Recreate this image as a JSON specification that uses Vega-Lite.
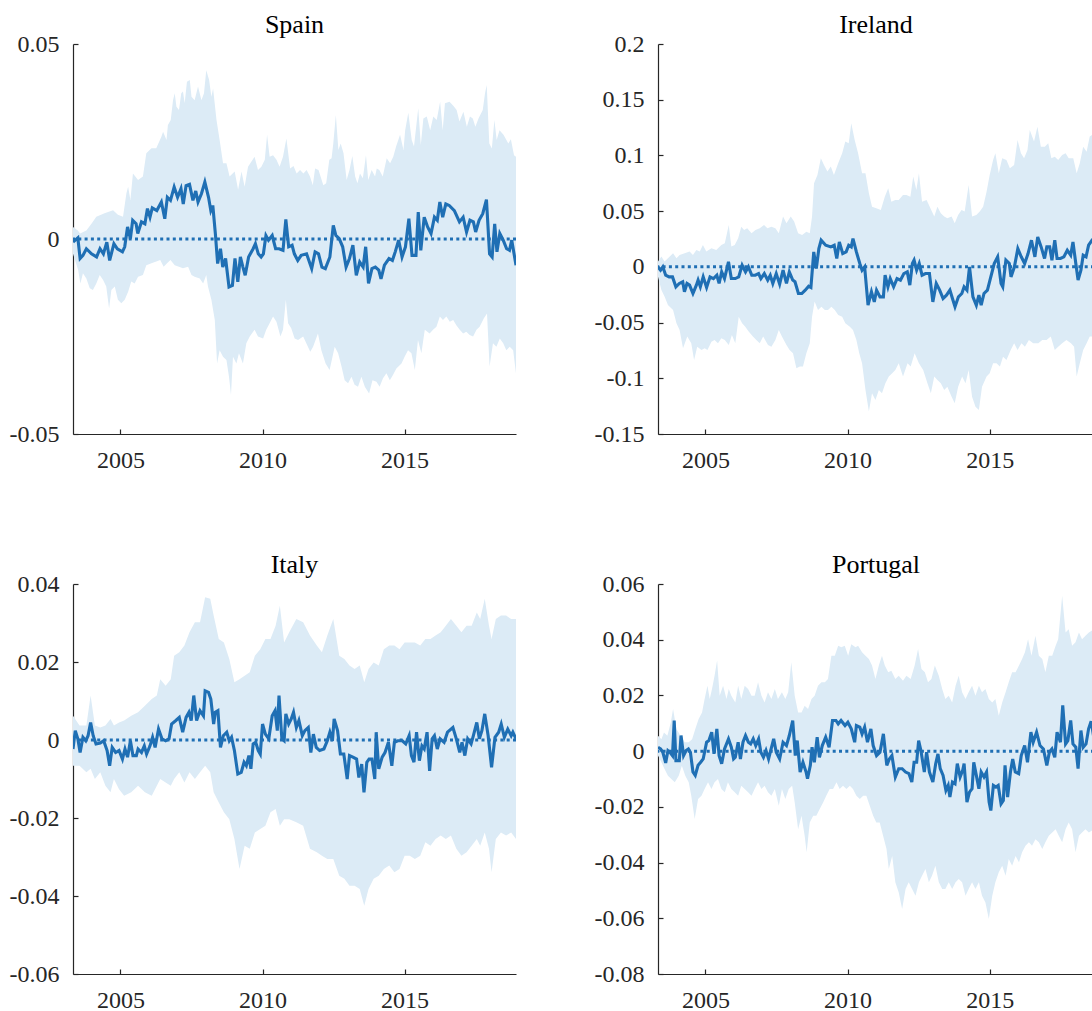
{
"$schema": "https://vega.github.io/schema/vega-lite/v6.json",
"padding": {"left": 9, "top": 12, "right": 0, "bottom": 0},
"columns": 2,
"spacing": {"row": 80, "column": 76},
"datasets": {
"spainLine": [{"t":2003.33,"v":-0.0008},{"t":2003.50,"v":0.0003},{"t":2003.58,"v":-0.0050},{"t":2003.68,"v":-0.0042},{"t":2003.80,"v":-0.0025},{"t":2003.98,"v":-0.0038},{"t":2004.16,"v":-0.0046},{"t":2004.28,"v":-0.0025},{"t":2004.40,"v":-0.0038},{"t":2004.52,"v":-0.0008},{"t":2004.62,"v":-0.0055},{"t":2004.77,"v":-0.0012},{"t":2004.89,"v":-0.0025},{"t":2005.07,"v":-0.0033},{"t":2005.15,"v":-0.0020},{"t":2005.25,"v":0.0031},{"t":2005.35,"v":0.0001},{"t":2005.43,"v":0.0048},{"t":2005.55,"v":0.0039},{"t":2005.61,"v":0.0014},{"t":2005.74,"v":0.0044},{"t":2005.86,"v":0.0039},{"t":2005.95,"v":0.0078},{"t":2006.04,"v":0.0056},{"t":2006.12,"v":0.0080},{"t":2006.28,"v":0.0073},{"t":2006.44,"v":0.0095},{"t":2006.56,"v":0.0052},{"t":2006.65,"v":0.0107},{"t":2006.76,"v":0.0099},{"t":2006.89,"v":0.0133},{"t":2007.01,"v":0.0107},{"t":2007.13,"v":0.0129},{"t":2007.21,"v":0.0090},{"t":2007.31,"v":0.0137},{"t":2007.43,"v":0.0140},{"t":2007.55,"v":0.0099},{"t":2007.65,"v":0.0123},{"t":2007.73,"v":0.0095},{"t":2007.85,"v":0.0116},{"t":2007.97,"v":0.0146},{"t":2008.10,"v":0.0107},{"t":2008.18,"v":0.0073},{"t":2008.25,"v":0.0086},{"t":2008.34,"v":0.0014},{"t":2008.42,"v":-0.0063},{"t":2008.52,"v":-0.0025},{"t":2008.60,"v":-0.0072},{"t":2008.70,"v":-0.0050},{"t":2008.82,"v":-0.0123},{"t":2008.94,"v":-0.0119},{"t":2009.03,"v":-0.0050},{"t":2009.13,"v":-0.0110},{"t":2009.22,"v":-0.0046},{"t":2009.31,"v":-0.0072},{"t":2009.39,"v":-0.0093},{"t":2009.51,"v":-0.0046},{"t":2009.67,"v":-0.0025},{"t":2009.75,"v":-0.0012},{"t":2009.85,"v":-0.0038},{"t":2009.95,"v":-0.0046},{"t":2010.03,"v":-0.0038},{"t":2010.12,"v":0.0009},{"t":2010.21,"v":-0.0003},{"t":2010.34,"v":0.0009},{"t":2010.46,"v":-0.0025},{"t":2010.58,"v":-0.0025},{"t":2010.72,"v":-0.0029},{"t":2010.82,"v":0.0050},{"t":2010.92,"v":-0.0020},{"t":2011.04,"v":-0.0016},{"t":2011.12,"v":-0.0038},{"t":2011.24,"v":-0.0055},{"t":2011.36,"v":-0.0042},{"t":2011.55,"v":-0.0038},{"t":2011.73,"v":-0.0076},{"t":2011.85,"v":-0.0033},{"t":2011.97,"v":-0.0038},{"t":2012.09,"v":-0.0072},{"t":2012.21,"v":-0.0076},{"t":2012.37,"v":-0.0046},{"t":2012.49,"v":0.0035},{"t":2012.58,"v":0.0009},{"t":2012.70,"v":0.0001},{"t":2012.82,"v":-0.0020},{"t":2012.94,"v":-0.0072},{"t":2013.06,"v":-0.0050},{"t":2013.18,"v":-0.0016},{"t":2013.30,"v":-0.0093},{"t":2013.42,"v":-0.0059},{"t":2013.54,"v":-0.0072},{"t":2013.63,"v":-0.0020},{"t":2013.73,"v":-0.0114},{"t":2013.85,"v":-0.0076},{"t":2013.97,"v":-0.0072},{"t":2014.09,"v":-0.0080},{"t":2014.17,"v":-0.0102},{"t":2014.29,"v":-0.0067},{"t":2014.45,"v":-0.0050},{"t":2014.57,"v":-0.0055},{"t":2014.67,"v":-0.0033},{"t":2014.79,"v":-0.0003},{"t":2014.91,"v":-0.0046},{"t":2015.03,"v":-0.0020},{"t":2015.15,"v":0.0052},{"t":2015.26,"v":-0.0042},{"t":2015.40,"v":-0.0042},{"t":2015.48,"v":0.0069},{"t":2015.57,"v":-0.0029},{"t":2015.69,"v":0.0056},{"t":2015.81,"v":0.0031},{"t":2015.93,"v":0.0014},{"t":2016.05,"v":0.0056},{"t":2016.15,"v":0.0048},{"t":2016.24,"v":0.0095},{"t":2016.34,"v":0.0056},{"t":2016.45,"v":0.0090},{"t":2016.57,"v":0.0086},{"t":2016.75,"v":0.0073},{"t":2016.93,"v":0.0044},{"t":2017.06,"v":0.0056},{"t":2017.18,"v":0.0018},{"t":2017.30,"v":0.0048},{"t":2017.42,"v":0.0044},{"t":2017.50,"v":0.0018},{"t":2017.62,"v":0.0048},{"t":2017.75,"v":0.0065},{"t":2017.88,"v":0.0101},{"t":2017.99,"v":-0.0038},{"t":2018.08,"v":-0.0046},{"t":2018.17,"v":0.0039},{"t":2018.25,"v":-0.0033},{"t":2018.35,"v":0.0014},{"t":2018.47,"v":-0.0003},{"t":2018.59,"v":-0.0025},{"t":2018.69,"v":-0.0029},{"t":2018.77,"v":-0.0003},{"t":2018.92,"v":-0.0067}],
"spainUpper": [{"t":2003.33,"hi":0.0031},{"t":2003.50,"hi":0.0022},{"t":2003.58,"hi":0.0014},{"t":2003.80,"hi":0.0022},{"t":2003.98,"hi":0.0039},{"t":2004.15,"hi":0.0057},{"t":2004.44,"hi":0.0066},{"t":2004.74,"hi":0.0074},{"t":2004.91,"hi":0.0062},{"t":2005.09,"hi":0.0057},{"t":2005.21,"hi":0.0117},{"t":2005.27,"hi":0.0134},{"t":2005.35,"hi":0.0100},{"t":2005.44,"hi":0.0168},{"t":2005.62,"hi":0.0151},{"t":2005.79,"hi":0.0160},{"t":2005.91,"hi":0.0220},{"t":2006.09,"hi":0.0233},{"t":2006.26,"hi":0.0233},{"t":2006.44,"hi":0.0262},{"t":2006.50,"hi":0.0275},{"t":2006.62,"hi":0.0254},{"t":2006.67,"hi":0.0292},{"t":2006.77,"hi":0.0305},{"t":2006.85,"hi":0.0356},{"t":2006.91,"hi":0.0374},{"t":2006.97,"hi":0.0339},{"t":2007.06,"hi":0.0331},{"t":2007.14,"hi":0.0374},{"t":2007.20,"hi":0.0378},{"t":2007.26,"hi":0.0348},{"t":2007.34,"hi":0.0403},{"t":2007.44,"hi":0.0408},{"t":2007.50,"hi":0.0365},{"t":2007.61,"hi":0.0356},{"t":2007.73,"hi":0.0391},{"t":2007.85,"hi":0.0356},{"t":2007.94,"hi":0.0374},{"t":2008.02,"hi":0.0433},{"t":2008.12,"hi":0.0408},{"t":2008.20,"hi":0.0365},{"t":2008.26,"hi":0.0386},{"t":2008.38,"hi":0.0305},{"t":2008.49,"hi":0.0254},{"t":2008.61,"hi":0.0194},{"t":2008.73,"hi":0.0194},{"t":2008.84,"hi":0.0160},{"t":2009.02,"hi":0.0173},{"t":2009.14,"hi":0.0126},{"t":2009.26,"hi":0.0173},{"t":2009.37,"hi":0.0134},{"t":2009.49,"hi":0.0185},{"t":2009.72,"hi":0.0211},{"t":2009.84,"hi":0.0177},{"t":2009.96,"hi":0.0185},{"t":2010.08,"hi":0.0203},{"t":2010.16,"hi":0.0267},{"t":2010.25,"hi":0.0211},{"t":2010.37,"hi":0.0215},{"t":2010.49,"hi":0.0203},{"t":2010.60,"hi":0.0185},{"t":2010.72,"hi":0.0211},{"t":2010.84,"hi":0.0258},{"t":2010.97,"hi":0.0181},{"t":2011.09,"hi":0.0187},{"t":2011.20,"hi":0.0168},{"t":2011.32,"hi":0.0177},{"t":2011.44,"hi":0.0168},{"t":2011.55,"hi":0.0177},{"t":2011.67,"hi":0.0160},{"t":2011.77,"hi":0.0138},{"t":2011.85,"hi":0.0181},{"t":2011.97,"hi":0.0177},{"t":2012.14,"hi":0.0138},{"t":2012.24,"hi":0.0143},{"t":2012.35,"hi":0.0203},{"t":2012.43,"hi":0.0207},{"t":2012.49,"hi":0.0245},{"t":2012.58,"hi":0.0318},{"t":2012.67,"hi":0.0228},{"t":2012.75,"hi":0.0245},{"t":2012.85,"hi":0.0220},{"t":2012.96,"hi":0.0151},{"t":2013.06,"hi":0.0177},{"t":2013.16,"hi":0.0213},{"t":2013.26,"hi":0.0160},{"t":2013.34,"hi":0.0143},{"t":2013.43,"hi":0.0168},{"t":2013.53,"hi":0.0156},{"t":2013.64,"hi":0.0215},{"t":2013.72,"hi":0.0151},{"t":2013.84,"hi":0.0177},{"t":2013.96,"hi":0.0160},{"t":2014.02,"hi":0.0181},{"t":2014.11,"hi":0.0177},{"t":2014.23,"hi":0.0160},{"t":2014.37,"hi":0.0207},{"t":2014.49,"hi":0.0194},{"t":2014.60,"hi":0.0211},{"t":2014.70,"hi":0.0237},{"t":2014.84,"hi":0.0267},{"t":2014.96,"hi":0.0228},{"t":2015.02,"hi":0.0279},{"t":2015.13,"hi":0.0324},{"t":2015.25,"hi":0.0254},{"t":2015.33,"hi":0.0237},{"t":2015.48,"hi":0.0335},{"t":2015.57,"hi":0.0241},{"t":2015.66,"hi":0.0309},{"t":2015.78,"hi":0.0314},{"t":2015.90,"hi":0.0279},{"t":2016.01,"hi":0.0314},{"t":2016.13,"hi":0.0305},{"t":2016.25,"hi":0.0352},{"t":2016.34,"hi":0.0279},{"t":2016.42,"hi":0.0348},{"t":2016.58,"hi":0.0352},{"t":2016.72,"hi":0.0341},{"t":2016.83,"hi":0.0331},{"t":2016.93,"hi":0.0301},{"t":2017.07,"hi":0.0326},{"t":2017.19,"hi":0.0288},{"t":2017.30,"hi":0.0314},{"t":2017.40,"hi":0.0309},{"t":2017.49,"hi":0.0288},{"t":2017.60,"hi":0.0309},{"t":2017.75,"hi":0.0331},{"t":2017.83,"hi":0.0374},{"t":2017.89,"hi":0.0395},{"t":2017.98,"hi":0.0245},{"t":2018.07,"hi":0.0232},{"t":2018.16,"hi":0.0305},{"t":2018.24,"hi":0.0254},{"t":2018.34,"hi":0.0279},{"t":2018.48,"hi":0.0267},{"t":2018.65,"hi":0.0245},{"t":2018.74,"hi":0.0256},{"t":2018.85,"hi":0.0215},{"t":2018.92,"hi":0.0211}],
"spainLower": [{"t":2003.33,"lo":-0.0038},{"t":2003.51,"lo":-0.0079},{"t":2003.59,"lo":-0.0114},{"t":2003.68,"lo":-0.0088},{"t":2003.80,"lo":-0.0101},{"t":2003.92,"lo":-0.0126},{"t":2004.03,"lo":-0.0131},{"t":2004.15,"lo":-0.0114},{"t":2004.27,"lo":-0.0092},{"t":2004.39,"lo":-0.0105},{"t":2004.50,"lo":-0.0122},{"t":2004.60,"lo":-0.0178},{"t":2004.68,"lo":-0.0131},{"t":2004.80,"lo":-0.0122},{"t":2004.91,"lo":-0.0156},{"t":2005.03,"lo":-0.0165},{"t":2005.15,"lo":-0.0156},{"t":2005.27,"lo":-0.0135},{"t":2005.38,"lo":-0.0109},{"t":2005.50,"lo":-0.0114},{"t":2005.62,"lo":-0.0097},{"t":2005.79,"lo":-0.0092},{"t":2005.91,"lo":-0.0067},{"t":2006.09,"lo":-0.0062},{"t":2006.26,"lo":-0.0058},{"t":2006.40,"lo":-0.0054},{"t":2006.52,"lo":-0.0071},{"t":2006.64,"lo":-0.0062},{"t":2006.76,"lo":-0.0054},{"t":2006.91,"lo":-0.0067},{"t":2007.06,"lo":-0.0071},{"t":2007.20,"lo":-0.0075},{"t":2007.38,"lo":-0.0071},{"t":2007.50,"lo":-0.0092},{"t":2007.61,"lo":-0.0097},{"t":2007.79,"lo":-0.0101},{"t":2007.91,"lo":-0.0114},{"t":2008.02,"lo":-0.0092},{"t":2008.08,"lo":-0.0122},{"t":2008.20,"lo":-0.0156},{"t":2008.32,"lo":-0.0208},{"t":2008.40,"lo":-0.0319},{"t":2008.49,"lo":-0.0285},{"t":2008.61,"lo":-0.0302},{"t":2008.73,"lo":-0.0310},{"t":2008.82,"lo":-0.0353},{"t":2008.89,"lo":-0.0400},{"t":2008.96,"lo":-0.0302},{"t":2009.08,"lo":-0.0319},{"t":2009.17,"lo":-0.0293},{"t":2009.31,"lo":-0.0319},{"t":2009.43,"lo":-0.0267},{"t":2009.55,"lo":-0.0250},{"t":2009.72,"lo":-0.0233},{"t":2009.84,"lo":-0.0250},{"t":2010.02,"lo":-0.0255},{"t":2010.13,"lo":-0.0233},{"t":2010.25,"lo":-0.0216},{"t":2010.37,"lo":-0.0199},{"t":2010.49,"lo":-0.0212},{"t":2010.63,"lo":-0.0250},{"t":2010.72,"lo":-0.0233},{"t":2010.82,"lo":-0.0156},{"t":2010.90,"lo":-0.0216},{"t":2011.01,"lo":-0.0229},{"t":2011.13,"lo":-0.0255},{"t":2011.25,"lo":-0.0259},{"t":2011.43,"lo":-0.0250},{"t":2011.54,"lo":-0.0267},{"t":2011.68,"lo":-0.0289},{"t":2011.78,"lo":-0.0276},{"t":2011.95,"lo":-0.0242},{"t":2012.07,"lo":-0.0285},{"t":2012.22,"lo":-0.0319},{"t":2012.36,"lo":-0.0336},{"t":2012.54,"lo":-0.0276},{"t":2012.66,"lo":-0.0293},{"t":2012.78,"lo":-0.0327},{"t":2012.89,"lo":-0.0362},{"t":2013.01,"lo":-0.0370},{"t":2013.13,"lo":-0.0353},{"t":2013.24,"lo":-0.0374},{"t":2013.36,"lo":-0.0379},{"t":2013.48,"lo":-0.0353},{"t":2013.60,"lo":-0.0379},{"t":2013.75,"lo":-0.0396},{"t":2013.87,"lo":-0.0362},{"t":2014.01,"lo":-0.0366},{"t":2014.12,"lo":-0.0379},{"t":2014.24,"lo":-0.0357},{"t":2014.36,"lo":-0.0344},{"t":2014.48,"lo":-0.0362},{"t":2014.59,"lo":-0.0349},{"t":2014.71,"lo":-0.0332},{"t":2014.89,"lo":-0.0319},{"t":2015.00,"lo":-0.0302},{"t":2015.12,"lo":-0.0285},{"t":2015.24,"lo":-0.0293},{"t":2015.36,"lo":-0.0336},{"t":2015.47,"lo":-0.0259},{"t":2015.59,"lo":-0.0293},{"t":2015.71,"lo":-0.0233},{"t":2015.88,"lo":-0.0242},{"t":2016.00,"lo":-0.0233},{"t":2016.12,"lo":-0.0225},{"t":2016.24,"lo":-0.0199},{"t":2016.35,"lo":-0.0208},{"t":2016.47,"lo":-0.0199},{"t":2016.59,"lo":-0.0212},{"t":2016.71,"lo":-0.0208},{"t":2016.82,"lo":-0.0221},{"t":2016.94,"lo":-0.0233},{"t":2017.06,"lo":-0.0242},{"t":2017.17,"lo":-0.0238},{"t":2017.29,"lo":-0.0246},{"t":2017.41,"lo":-0.0250},{"t":2017.53,"lo":-0.0233},{"t":2017.64,"lo":-0.0225},{"t":2017.79,"lo":-0.0203},{"t":2017.90,"lo":-0.0191},{"t":2017.99,"lo":-0.0327},{"t":2018.11,"lo":-0.0267},{"t":2018.23,"lo":-0.0276},{"t":2018.35,"lo":-0.0255},{"t":2018.47,"lo":-0.0267},{"t":2018.58,"lo":-0.0285},{"t":2018.70,"lo":-0.0276},{"t":2018.82,"lo":-0.0285},{"t":2018.92,"lo":-0.0345}],
"irelandLine": [{"t":2003.33,"v":0},{"t":2003.42,"v":-0.0030},{"t":2003.50,"v":0},{"t":2003.60,"v":-0.0075},{"t":2003.72,"v":-0.0090},{"t":2003.84,"v":-0.0090},{"t":2003.96,"v":-0.0179},{"t":2004.08,"v":-0.0149},{"t":2004.20,"v":-0.0134},{"t":2004.26,"v":-0.0224},{"t":2004.35,"v":-0.0149},{"t":2004.44,"v":-0.0164},{"t":2004.56,"v":-0.0239},{"t":2004.68,"v":-0.0164},{"t":2004.74,"v":-0.0119},{"t":2004.82,"v":-0.0179},{"t":2004.92,"v":-0.0090},{"t":2005.04,"v":-0.0185},{"t":2005.16,"v":-0.0090},{"t":2005.28,"v":-0.0105},{"t":2005.40,"v":-0.0075},{"t":2005.48,"v":-0.0149},{"t":2005.57,"v":-0.0045},{"t":2005.67,"v":-0.0105},{"t":2005.81,"v":0.0045},{"t":2005.91,"v":-0.0105},{"t":2006.05,"v":-0.0105},{"t":2006.17,"v":-0.0090},{"t":2006.29,"v":0.0015},{"t":2006.41,"v":-0.0045},{"t":2006.51,"v":0},{"t":2006.63,"v":-0.0075},{"t":2006.75,"v":-0.0075},{"t":2006.87,"v":-0.0060},{"t":2006.95,"v":-0.0105},{"t":2007.07,"v":-0.0060},{"t":2007.19,"v":-0.0119},{"t":2007.28,"v":-0.0075},{"t":2007.37,"v":-0.0149},{"t":2007.49,"v":-0.0060},{"t":2007.61,"v":-0.0155},{"t":2007.73,"v":-0.0030},{"t":2007.85,"v":-0.0149},{"t":2007.95,"v":-0.0045},{"t":2008.07,"v":-0.0119},{"t":2008.15,"v":-0.0134},{"t":2008.27,"v":-0.0239},{"t":2008.39,"v":-0.0239},{"t":2008.51,"v":-0.0209},{"t":2008.63,"v":-0.0173},{"t":2008.71,"v":-0.0185},{"t":2008.81,"v":0.0134},{"t":2008.90,"v":-0.0015},{"t":2008.99,"v":0.0164},{"t":2009.07,"v":0.0239},{"t":2009.23,"v":0.0194},{"t":2009.41,"v":0.0179},{"t":2009.53,"v":0.0194},{"t":2009.62,"v":0.0075},{"t":2009.71,"v":0.0224},{"t":2009.83,"v":0.0119},{"t":2009.95,"v":0.0134},{"t":2010.04,"v":0.0194},{"t":2010.13,"v":0.0179},{"t":2010.19,"v":0.0254},{"t":2010.31,"v":0.0134},{"t":2010.43,"v":0.0030},{"t":2010.51,"v":-0.0030},{"t":2010.60,"v":0},{"t":2010.72,"v":-0.0344},{"t":2010.84,"v":-0.0224},{"t":2010.94,"v":-0.0314},{"t":2011.02,"v":-0.0209},{"t":2011.14,"v":-0.0269},{"t":2011.26,"v":-0.0269},{"t":2011.32,"v":-0.0075},{"t":2011.42,"v":-0.0179},{"t":2011.50,"v":-0.0105},{"t":2011.62,"v":-0.0179},{"t":2011.74,"v":-0.0105},{"t":2011.86,"v":-0.0119},{"t":2011.98,"v":-0.0060},{"t":2012.10,"v":-0.0045},{"t":2012.19,"v":-0.0164},{"t":2012.28,"v":0.0030},{"t":2012.34,"v":0.0060},{"t":2012.43,"v":-0.0030},{"t":2012.52,"v":0.0030},{"t":2012.62,"v":-0.0075},{"t":2012.74,"v":-0.0060},{"t":2012.88,"v":-0.0060},{"t":2013.00,"v":-0.0314},{"t":2013.12,"v":-0.0149},{"t":2013.24,"v":-0.0209},{"t":2013.36,"v":-0.0284},{"t":2013.48,"v":-0.0254},{"t":2013.60,"v":-0.0209},{"t":2013.69,"v":-0.0284},{"t":2013.78,"v":-0.0358},{"t":2013.90,"v":-0.0269},{"t":2014.02,"v":-0.0239},{"t":2014.10,"v":-0.0179},{"t":2014.20,"v":-0.0209},{"t":2014.29,"v":0},{"t":2014.41,"v":-0.0269},{"t":2014.53,"v":-0.0344},{"t":2014.62,"v":-0.0254},{"t":2014.70,"v":-0.0344},{"t":2014.80,"v":-0.0239},{"t":2014.92,"v":-0.0209},{"t":2015.01,"v":-0.0119},{"t":2015.16,"v":0.0030},{"t":2015.28,"v":0.0090},{"t":2015.40,"v":-0.0149},{"t":2015.46,"v":-0.0179},{"t":2015.57,"v":0.0060},{"t":2015.69,"v":0.0030},{"t":2015.75,"v":-0.0090},{"t":2015.87,"v":0},{"t":2015.99,"v":0.0164},{"t":2016.11,"v":0.0090},{"t":2016.23,"v":0.0030},{"t":2016.35,"v":0.0119},{"t":2016.47,"v":0.0239},{"t":2016.59,"v":0.0090},{"t":2016.69,"v":0.0269},{"t":2016.81,"v":0.0179},{"t":2016.93,"v":0.0075},{"t":2017.01,"v":0.0179},{"t":2017.11,"v":0.0179},{"t":2017.19,"v":0.0060},{"t":2017.29,"v":0.0239},{"t":2017.37,"v":0.0075},{"t":2017.49,"v":0.0075},{"t":2017.61,"v":0.0090},{"t":2017.73,"v":0.0149},{"t":2017.85,"v":0.0105},{"t":2017.93,"v":0.0224},{"t":2018.03,"v":0.0030},{"t":2018.11,"v":-0.0119},{"t":2018.21,"v":-0.0030},{"t":2018.29,"v":0.0105},{"t":2018.39,"v":0.0090},{"t":2018.48,"v":0.0194},{"t":2018.60,"v":0.0239},{"t":2018.72,"v":0.0224},{"t":2018.92,"v":0.0220}],
"irelandUpper": [{"t":2003.33,"hi":0.0047},{"t":2003.45,"hi":0.0092},{"t":2003.56,"hi":0.0047},{"t":2003.68,"hi":0.0077},{"t":2003.86,"hi":0.0122},{"t":2003.98,"hi":0.0077},{"t":2004.09,"hi":0.0107},{"t":2004.27,"hi":0.0122},{"t":2004.44,"hi":0.0137},{"t":2004.56,"hi":0.0107},{"t":2004.68,"hi":0.0152},{"t":2004.80,"hi":0.0137},{"t":2004.91,"hi":0.0197},{"t":2005.03,"hi":0.0137},{"t":2005.21,"hi":0.0167},{"t":2005.38,"hi":0.0152},{"t":2005.56,"hi":0.0197},{"t":2005.68,"hi":0.0212},{"t":2005.82,"hi":0.0376},{"t":2005.91,"hi":0.0182},{"t":2006.03,"hi":0.0197},{"t":2006.15,"hi":0.0256},{"t":2006.26,"hi":0.0361},{"t":2006.36,"hi":0.0331},{"t":2006.47,"hi":0.0346},{"t":2006.62,"hi":0.0301},{"t":2006.76,"hi":0.0331},{"t":2006.91,"hi":0.0346},{"t":2007.06,"hi":0.0376},{"t":2007.18,"hi":0.0346},{"t":2007.32,"hi":0.0361},{"t":2007.46,"hi":0.0346},{"t":2007.58,"hi":0.0301},{"t":2007.73,"hi":0.0451},{"t":2007.85,"hi":0.0391},{"t":2008.00,"hi":0.0451},{"t":2008.12,"hi":0.0406},{"t":2008.26,"hi":0.0301},{"t":2008.40,"hi":0.0286},{"t":2008.55,"hi":0.0316},{"t":2008.67,"hi":0.0301},{"t":2008.75,"hi":0.0451},{"t":2008.82,"hi":0.0750},{"t":2008.94,"hi":0.0825},{"t":2009.06,"hi":0.0974},{"t":2009.17,"hi":0.0915},{"t":2009.29,"hi":0.0855},{"t":2009.41,"hi":0.0900},{"t":2009.52,"hi":0.0825},{"t":2009.67,"hi":0.0929},{"t":2009.81,"hi":0.1019},{"t":2009.92,"hi":0.1124},{"t":2010.04,"hi":0.1109},{"t":2010.13,"hi":0.1288},{"t":2010.25,"hi":0.1139},{"t":2010.37,"hi":0.1019},{"t":2010.51,"hi":0.0840},{"t":2010.63,"hi":0.0840},{"t":2010.75,"hi":0.0660},{"t":2010.86,"hi":0.0540},{"t":2011.01,"hi":0.0526},{"t":2011.17,"hi":0.0511},{"t":2011.31,"hi":0.0630},{"t":2011.43,"hi":0.0705},{"t":2011.54,"hi":0.0585},{"t":2011.68,"hi":0.0600},{"t":2011.80,"hi":0.0600},{"t":2011.95,"hi":0.0645},{"t":2012.07,"hi":0.0645},{"t":2012.21,"hi":0.0630},{"t":2012.31,"hi":0.0810},{"t":2012.42,"hi":0.0690},{"t":2012.51,"hi":0.0840},{"t":2012.62,"hi":0.0585},{"t":2012.78,"hi":0.0600},{"t":2012.89,"hi":0.0540},{"t":2013.05,"hi":0.0451},{"t":2013.16,"hi":0.0540},{"t":2013.28,"hi":0.0481},{"t":2013.40,"hi":0.0451},{"t":2013.51,"hi":0.0436},{"t":2013.66,"hi":0.0451},{"t":2013.77,"hi":0.0391},{"t":2013.89,"hi":0.0466},{"t":2014.01,"hi":0.0511},{"t":2014.12,"hi":0.0496},{"t":2014.26,"hi":0.0735},{"t":2014.38,"hi":0.0451},{"t":2014.53,"hi":0.0466},{"t":2014.65,"hi":0.0496},{"t":2014.77,"hi":0.0540},{"t":2014.89,"hi":0.0675},{"t":2015.00,"hi":0.0825},{"t":2015.12,"hi":0.0959},{"t":2015.20,"hi":0.1019},{"t":2015.32,"hi":0.0840},{"t":2015.44,"hi":0.0974},{"t":2015.59,"hi":0.0959},{"t":2015.71,"hi":0.0885},{"t":2015.86,"hi":0.0915},{"t":2015.98,"hi":0.1139},{"t":2016.10,"hi":0.1019},{"t":2016.21,"hi":0.0974},{"t":2016.33,"hi":0.1049},{"t":2016.41,"hi":0.1229},{"t":2016.56,"hi":0.1124},{"t":2016.68,"hi":0.1258},{"t":2016.80,"hi":0.1079},{"t":2016.94,"hi":0.1079},{"t":2017.06,"hi":0.1109},{"t":2017.17,"hi":0.0974},{"t":2017.29,"hi":0.0989},{"t":2017.41,"hi":0.0959},{"t":2017.55,"hi":0.1004},{"t":2017.67,"hi":0.1019},{"t":2017.78,"hi":0.0974},{"t":2017.94,"hi":0.0974},{"t":2018.06,"hi":0.0840},{"t":2018.17,"hi":0.0929},{"t":2018.29,"hi":0.1079},{"t":2018.41,"hi":0.1034},{"t":2018.52,"hi":0.1169},{"t":2018.68,"hi":0.1199},{"t":2018.92,"hi":0.1200}],
"irelandLower": [{"t":2003.33,"lo":-0.0088},{"t":2003.45,"lo":-0.0207},{"t":2003.56,"lo":-0.0267},{"t":2003.68,"lo":-0.0342},{"t":2003.86,"lo":-0.0387},{"t":2003.98,"lo":-0.0506},{"t":2004.09,"lo":-0.0566},{"t":2004.21,"lo":-0.0731},{"t":2004.36,"lo":-0.0626},{"t":2004.50,"lo":-0.0686},{"t":2004.60,"lo":-0.0835},{"t":2004.71,"lo":-0.0716},{"t":2004.86,"lo":-0.0746},{"t":2004.97,"lo":-0.0731},{"t":2005.07,"lo":-0.0746},{"t":2005.21,"lo":-0.0671},{"t":2005.32,"lo":-0.0656},{"t":2005.44,"lo":-0.0686},{"t":2005.56,"lo":-0.0641},{"t":2005.68,"lo":-0.0656},{"t":2005.82,"lo":-0.0701},{"t":2005.93,"lo":-0.0611},{"t":2006.05,"lo":-0.0686},{"t":2006.17,"lo":-0.0447},{"t":2006.29,"lo":-0.0506},{"t":2006.40,"lo":-0.0537},{"t":2006.52,"lo":-0.0581},{"t":2006.67,"lo":-0.0626},{"t":2006.79,"lo":-0.0656},{"t":2006.91,"lo":-0.0686},{"t":2007.03,"lo":-0.0626},{"t":2007.20,"lo":-0.0701},{"t":2007.32,"lo":-0.0716},{"t":2007.46,"lo":-0.0656},{"t":2007.58,"lo":-0.0566},{"t":2007.69,"lo":-0.0626},{"t":2007.85,"lo":-0.0701},{"t":2007.96,"lo":-0.0746},{"t":2008.08,"lo":-0.0776},{"t":2008.20,"lo":-0.0910},{"t":2008.32,"lo":-0.0895},{"t":2008.43,"lo":-0.0895},{"t":2008.55,"lo":-0.0776},{"t":2008.67,"lo":-0.0686},{"t":2008.75,"lo":-0.0447},{"t":2008.84,"lo":-0.0312},{"t":2008.96,"lo":-0.0387},{"t":2009.08,"lo":-0.0357},{"t":2009.20,"lo":-0.0387},{"t":2009.31,"lo":-0.0387},{"t":2009.43,"lo":-0.0357},{"t":2009.55,"lo":-0.0387},{"t":2009.67,"lo":-0.0432},{"t":2009.81,"lo":-0.0447},{"t":2009.92,"lo":-0.0506},{"t":2010.08,"lo":-0.0537},{"t":2010.19,"lo":-0.0566},{"t":2010.31,"lo":-0.0656},{"t":2010.41,"lo":-0.0776},{"t":2010.51,"lo":-0.0865},{"t":2010.63,"lo":-0.1105},{"t":2010.75,"lo":-0.1299},{"t":2010.86,"lo":-0.1134},{"t":2010.98,"lo":-0.1194},{"t":2011.10,"lo":-0.1105},{"t":2011.21,"lo":-0.1134},{"t":2011.33,"lo":-0.1045},{"t":2011.45,"lo":-0.0985},{"t":2011.57,"lo":-0.0955},{"t":2011.68,"lo":-0.0925},{"t":2011.80,"lo":-0.0865},{"t":2011.95,"lo":-0.0985},{"t":2012.11,"lo":-0.0865},{"t":2012.22,"lo":-0.0895},{"t":2012.36,"lo":-0.0776},{"t":2012.51,"lo":-0.0865},{"t":2012.66,"lo":-0.0925},{"t":2012.81,"lo":-0.1045},{"t":2012.93,"lo":-0.1134},{"t":2013.05,"lo":-0.0985},{"t":2013.16,"lo":-0.1015},{"t":2013.28,"lo":-0.1045},{"t":2013.40,"lo":-0.1105},{"t":2013.51,"lo":-0.1075},{"t":2013.66,"lo":-0.1165},{"t":2013.77,"lo":-0.1224},{"t":2013.89,"lo":-0.1075},{"t":2014.03,"lo":-0.0985},{"t":2014.15,"lo":-0.1045},{"t":2014.26,"lo":-0.0925},{"t":2014.38,"lo":-0.1165},{"t":2014.50,"lo":-0.1255},{"t":2014.62,"lo":-0.1284},{"t":2014.73,"lo":-0.1075},{"t":2014.89,"lo":-0.0985},{"t":2015.00,"lo":-0.0955},{"t":2015.12,"lo":-0.0865},{"t":2015.24,"lo":-0.0865},{"t":2015.36,"lo":-0.0895},{"t":2015.47,"lo":-0.0806},{"t":2015.59,"lo":-0.0835},{"t":2015.74,"lo":-0.0746},{"t":2015.86,"lo":-0.0686},{"t":2015.98,"lo":-0.0746},{"t":2016.12,"lo":-0.0686},{"t":2016.24,"lo":-0.0716},{"t":2016.38,"lo":-0.0656},{"t":2016.53,"lo":-0.0686},{"t":2016.71,"lo":-0.0686},{"t":2016.85,"lo":-0.0656},{"t":2017.00,"lo":-0.0656},{"t":2017.15,"lo":-0.0626},{"t":2017.29,"lo":-0.0746},{"t":2017.41,"lo":-0.0716},{"t":2017.55,"lo":-0.0686},{"t":2017.70,"lo":-0.0656},{"t":2017.86,"lo":-0.0686},{"t":2017.97,"lo":-0.0716},{"t":2018.06,"lo":-0.0985},{"t":2018.17,"lo":-0.0865},{"t":2018.29,"lo":-0.0746},{"t":2018.41,"lo":-0.0686},{"t":2018.52,"lo":-0.0626},{"t":2018.68,"lo":-0.0626},{"t":2018.92,"lo":-0.0600}],
"italyLine": [{"t":2003.33,"v":-0.0023},{"t":2003.41,"v":0.0024},{"t":2003.50,"v":0.0003},{"t":2003.58,"v":-0.0032},{"t":2003.68,"v":0.0007},{"t":2003.78,"v":-0.0002},{"t":2003.86,"v":0.0011},{"t":2003.95,"v":0.0045},{"t":2004.04,"v":0.0011},{"t":2004.14,"v":-0.0010},{"t":2004.29,"v":-0.0008},{"t":2004.41,"v":-0.0002},{"t":2004.53,"v":-0.0027},{"t":2004.62,"v":-0.0066},{"t":2004.71,"v":-0.0019},{"t":2004.83,"v":-0.0032},{"t":2004.95,"v":-0.0027},{"t":2005.07,"v":-0.0049},{"t":2005.16,"v":-0.0023},{"t":2005.25,"v":-0.0044},{"t":2005.35,"v":-0.0002},{"t":2005.44,"v":-0.0040},{"t":2005.56,"v":-0.0040},{"t":2005.62,"v":-0.0023},{"t":2005.74,"v":-0.0032},{"t":2005.84,"v":-0.0015},{"t":2005.92,"v":-0.0036},{"t":2006.04,"v":-0.0015},{"t":2006.13,"v":0.0007},{"t":2006.22,"v":-0.0019},{"t":2006.34,"v":0.0028},{"t":2006.46,"v":0.0003},{"t":2006.59,"v":-0.0002},{"t":2006.71,"v":0.0003},{"t":2006.80,"v":0.0041},{"t":2006.95,"v":0.0050},{"t":2007.07,"v":0.0058},{"t":2007.19,"v":0.0020},{"t":2007.31,"v":0.0058},{"t":2007.41,"v":0.0071},{"t":2007.49,"v":0.0050},{"t":2007.58,"v":0.0114},{"t":2007.68,"v":0.0050},{"t":2007.80,"v":0.0075},{"t":2007.92,"v":0.0062},{"t":2007.98,"v":0.0126},{"t":2008.10,"v":0.0122},{"t":2008.18,"v":0.0105},{"t":2008.28,"v":0.0041},{"t":2008.34,"v":0.0071},{"t":2008.43,"v":0.0075},{"t":2008.52,"v":-0.0019},{"t":2008.62,"v":0.0011},{"t":2008.74,"v":0.0020},{"t":2008.83,"v":-0.0002},{"t":2008.91,"v":0.0007},{"t":2009.01,"v":-0.0027},{"t":2009.13,"v":-0.0087},{"t":2009.25,"v":-0.0083},{"t":2009.35,"v":-0.0057},{"t":2009.43,"v":-0.0066},{"t":2009.52,"v":-0.0040},{"t":2009.59,"v":-0.0074},{"t":2009.67,"v":-0.0010},{"t":2009.76,"v":-0.0006},{"t":2009.85,"v":-0.0027},{"t":2009.92,"v":-0.0036},{"t":2010.00,"v":0.0041},{"t":2010.10,"v":0.0015},{"t":2010.22,"v":0.0003},{"t":2010.34,"v":0.0062},{"t":2010.44,"v":0.0075},{"t":2010.52,"v":0.0024},{"t":2010.58,"v":0.0114},{"t":2010.68,"v":0.0003},{"t":2010.76,"v":-0.0002},{"t":2010.82,"v":0.0067},{"t":2010.92,"v":0.0041},{"t":2011.01,"v":0.0054},{"t":2011.09,"v":0.0071},{"t":2011.19,"v":0.0032},{"t":2011.28,"v":0.0050},{"t":2011.40,"v":0.0011},{"t":2011.49,"v":0.0024},{"t":2011.61,"v":0.0032},{"t":2011.70,"v":-0.0032},{"t":2011.79,"v":0.0015},{"t":2011.89,"v":-0.0019},{"t":2012.01,"v":-0.0027},{"t":2012.16,"v":-0.0023},{"t":2012.28,"v":-0.0002},{"t":2012.37,"v":0.0020},{"t":2012.46,"v":-0.0002},{"t":2012.52,"v":0.0054},{"t":2012.64,"v":0.0024},{"t":2012.74,"v":-0.0036},{"t":2012.86,"v":-0.0036},{"t":2012.98,"v":-0.0100},{"t":2013.06,"v":-0.0040},{"t":2013.18,"v":-0.0044},{"t":2013.31,"v":-0.0049},{"t":2013.39,"v":-0.0096},{"t":2013.49,"v":-0.0062},{"t":2013.57,"v":-0.0134},{"t":2013.67,"v":-0.0057},{"t":2013.75,"v":-0.0049},{"t":2013.85,"v":-0.0049},{"t":2013.95,"v":-0.0100},{"t":2014.00,"v":0.0020},{"t":2014.09,"v":-0.0074},{"t":2014.21,"v":-0.0044},{"t":2014.31,"v":-0.0032},{"t":2014.43,"v":-0.0006},{"t":2014.55,"v":-0.0066},{"t":2014.64,"v":-0.0006},{"t":2014.76,"v":-0.0002},{"t":2014.92,"v":-0.0002},{"t":2015.04,"v":-0.0010},{"t":2015.16,"v":0.0011},{"t":2015.24,"v":-0.0040},{"t":2015.33,"v":-0.0057},{"t":2015.42,"v":0.0020},{"t":2015.52,"v":-0.0053},{"t":2015.61,"v":-0.0015},{"t":2015.69,"v":-0.0023},{"t":2015.79,"v":0.0020},{"t":2015.88,"v":-0.0079},{"t":2015.97,"v":0.0003},{"t":2016.05,"v":0.0011},{"t":2016.15,"v":-0.0023},{"t":2016.25,"v":0.0003},{"t":2016.39,"v":-0.0006},{"t":2016.51,"v":0.0020},{"t":2016.70,"v":0.0032},{"t":2016.82,"v":0.0003},{"t":2016.94,"v":-0.0032},{"t":2017.02,"v":-0.0006},{"t":2017.12,"v":-0.0040},{"t":2017.22,"v":0.0003},{"t":2017.34,"v":-0.0010},{"t":2017.42,"v":0.0011},{"t":2017.54,"v":0.0045},{"t":2017.63,"v":0.0003},{"t":2017.72,"v":0.0024},{"t":2017.82,"v":0.0067},{"t":2017.94,"v":0.0011},{"t":2018.06,"v":-0.0070},{"t":2018.18,"v":0.0007},{"t":2018.31,"v":0.0020},{"t":2018.40,"v":0.0041},{"t":2018.51,"v":0.0007},{"t":2018.63,"v":0.0028},{"t":2018.75,"v":0.0011},{"t":2018.81,"v":0.0020},{"t":2018.92,"v":0.0003}],
"italyBand": [{"t":2003.33,"hi":0.0062,"lo":-0.0066},{"t":2003.56,"hi":0.0037,"lo":-0.0066},{"t":2003.80,"hi":0.0037,"lo":-0.0083},{"t":2003.95,"hi":0.0114,"lo":-0.0074},{"t":2004.10,"hi":0.0037,"lo":-0.0100},{"t":2004.29,"hi":0.0032,"lo":-0.0083},{"t":2004.47,"hi":0.0037,"lo":-0.0117},{"t":2004.65,"hi":0.0054,"lo":-0.0134},{"t":2004.77,"hi":0.0037,"lo":-0.0100},{"t":2004.95,"hi":0.0045,"lo":-0.0126},{"t":2005.13,"hi":0.0050,"lo":-0.0143},{"t":2005.38,"hi":0.0062,"lo":-0.0134},{"t":2005.62,"hi":0.0071,"lo":-0.0117},{"t":2005.86,"hi":0.0088,"lo":-0.0134},{"t":2006.10,"hi":0.0105,"lo":-0.0143},{"t":2006.28,"hi":0.0114,"lo":-0.0117},{"t":2006.40,"hi":0.0156,"lo":-0.0100},{"t":2006.59,"hi":0.0139,"lo":-0.0109},{"t":2006.77,"hi":0.0156,"lo":-0.0117},{"t":2006.89,"hi":0.0216,"lo":-0.0100},{"t":2007.07,"hi":0.0225,"lo":-0.0083},{"t":2007.25,"hi":0.0242,"lo":-0.0109},{"t":2007.43,"hi":0.0276,"lo":-0.0083},{"t":2007.62,"hi":0.0302,"lo":-0.0100},{"t":2007.80,"hi":0.0302,"lo":-0.0083},{"t":2007.98,"hi":0.0366,"lo":-0.0066},{"t":2008.16,"hi":0.0362,"lo":-0.0083},{"t":2008.28,"hi":0.0319,"lo":-0.0134},{"t":2008.46,"hi":0.0259,"lo":-0.0160},{"t":2008.64,"hi":0.0250,"lo":-0.0185},{"t":2008.83,"hi":0.0208,"lo":-0.0203},{"t":2009.01,"hi":0.0148,"lo":-0.0254},{"t":2009.19,"hi":0.0156,"lo":-0.0331},{"t":2009.37,"hi":0.0165,"lo":-0.0271},{"t":2009.55,"hi":0.0174,"lo":-0.0279},{"t":2009.73,"hi":0.0216,"lo":-0.0237},{"t":2009.92,"hi":0.0233,"lo":-0.0228},{"t":2010.10,"hi":0.0259,"lo":-0.0220},{"t":2010.28,"hi":0.0259,"lo":-0.0185},{"t":2010.46,"hi":0.0293,"lo":-0.0177},{"t":2010.61,"hi":0.0344,"lo":-0.0220},{"t":2010.76,"hi":0.0250,"lo":-0.0203},{"t":2010.94,"hi":0.0276,"lo":-0.0203},{"t":2011.19,"hi":0.0310,"lo":-0.0211},{"t":2011.43,"hi":0.0302,"lo":-0.0220},{"t":2011.67,"hi":0.0268,"lo":-0.0279},{"t":2011.91,"hi":0.0242,"lo":-0.0288},{"t":2012.09,"hi":0.0225,"lo":-0.0297},{"t":2012.28,"hi":0.0268,"lo":-0.0305},{"t":2012.49,"hi":0.0310,"lo":-0.0305},{"t":2012.70,"hi":0.0216,"lo":-0.0348},{"t":2012.88,"hi":0.0208,"lo":-0.0356},{"t":2013.06,"hi":0.0191,"lo":-0.0374},{"t":2013.24,"hi":0.0182,"lo":-0.0374},{"t":2013.42,"hi":0.0191,"lo":-0.0382},{"t":2013.58,"hi":0.0148,"lo":-0.0425},{"t":2013.73,"hi":0.0182,"lo":-0.0382},{"t":2013.91,"hi":0.0199,"lo":-0.0356},{"t":2014.09,"hi":0.0191,"lo":-0.0348},{"t":2014.27,"hi":0.0233,"lo":-0.0331},{"t":2014.46,"hi":0.0242,"lo":-0.0322},{"t":2014.64,"hi":0.0242,"lo":-0.0339},{"t":2014.82,"hi":0.0233,"lo":-0.0331},{"t":2015.00,"hi":0.0250,"lo":-0.0297},{"t":2015.18,"hi":0.0250,"lo":-0.0297},{"t":2015.36,"hi":0.0250,"lo":-0.0305},{"t":2015.55,"hi":0.0242,"lo":-0.0297},{"t":2015.73,"hi":0.0259,"lo":-0.0262},{"t":2015.91,"hi":0.0259,"lo":-0.0271},{"t":2016.09,"hi":0.0268,"lo":-0.0254},{"t":2016.27,"hi":0.0276,"lo":-0.0245},{"t":2016.45,"hi":0.0293,"lo":-0.0254},{"t":2016.63,"hi":0.0310,"lo":-0.0245},{"t":2016.82,"hi":0.0293,"lo":-0.0279},{"t":2017.00,"hi":0.0276,"lo":-0.0297},{"t":2017.18,"hi":0.0293,"lo":-0.0288},{"t":2017.36,"hi":0.0293,"lo":-0.0271},{"t":2017.54,"hi":0.0327,"lo":-0.0254},{"t":2017.66,"hi":0.0310,"lo":-0.0271},{"t":2017.82,"hi":0.0362,"lo":-0.0237},{"t":2017.97,"hi":0.0293,"lo":-0.0279},{"t":2018.06,"hi":0.0259,"lo":-0.0339},{"t":2018.21,"hi":0.0310,"lo":-0.0254},{"t":2018.39,"hi":0.0319,"lo":-0.0237},{"t":2018.57,"hi":0.0319,"lo":-0.0245},{"t":2018.75,"hi":0.0310,"lo":-0.0237},{"t":2018.92,"hi":0.0310,"lo":-0.0254}],
"portugalLine": [{"t":2003.33,"v":0.0014},{"t":2003.42,"v":0.0008},{"t":2003.50,"v":-0.0004},{"t":2003.60,"v":-0.0042},{"t":2003.68,"v":0.0002},{"t":2003.75,"v":-0.0004},{"t":2003.84,"v":-0.0016},{"t":2003.90,"v":0.0110},{"t":2003.96,"v":-0.0034},{"t":2004.08,"v":-0.0034},{"t":2004.14,"v":0.0056},{"t":2004.23,"v":-0.0016},{"t":2004.32,"v":0.0002},{"t":2004.40,"v":0.0008},{"t":2004.47,"v":-0.0004},{"t":2004.56,"v":-0.0075},{"t":2004.64,"v":-0.0087},{"t":2004.74,"v":-0.0051},{"t":2004.83,"v":-0.0040},{"t":2004.92,"v":-0.0028},{"t":2005.04,"v":0.0032},{"t":2005.12,"v":0.0038},{"t":2005.22,"v":0.0068},{"t":2005.30,"v":-0.0010},{"t":2005.40,"v":0.0080},{"t":2005.48,"v":-0.0016},{"t":2005.57,"v":-0.0045},{"t":2005.67,"v":0.0008},{"t":2005.81,"v":0.0044},{"t":2005.91,"v":0.0014},{"t":2005.99,"v":-0.0028},{"t":2006.05,"v":-0.0022},{"t":2006.15,"v":0.0032},{"t":2006.23,"v":-0.0028},{"t":2006.32,"v":0.0032},{"t":2006.41,"v":0.0056},{"t":2006.51,"v":0.0032},{"t":2006.59,"v":0.0026},{"t":2006.68,"v":0.0044},{"t":2006.77,"v":0.0020},{"t":2006.87,"v":0.0044},{"t":2006.95,"v":-0.0004},{"t":2007.04,"v":-0.0022},{"t":2007.13,"v":0.0002},{"t":2007.22,"v":-0.0028},{"t":2007.31,"v":0.0008},{"t":2007.40,"v":0.0044},{"t":2007.49,"v":-0.0004},{"t":2007.61,"v":-0.0028},{"t":2007.73,"v":0.0032},{"t":2007.85,"v":0.0020},{"t":2007.95,"v":0.0056},{"t":2008.07,"v":0.0110},{"t":2008.16,"v":-0.0016},{"t":2008.23,"v":0.0038},{"t":2008.33,"v":-0.0075},{"t":2008.43,"v":-0.0040},{"t":2008.54,"v":-0.0075},{"t":2008.59,"v":-0.0099},{"t":2008.69,"v":-0.0051},{"t":2008.75,"v":0.0014},{"t":2008.83,"v":-0.0040},{"t":2008.93,"v":0.0050},{"t":2009.01,"v":-0.0022},{"t":2009.11,"v":0.0020},{"t":2009.23,"v":0.0050},{"t":2009.35,"v":0.0014},{"t":2009.47,"v":0.0110},{"t":2009.59,"v":0.0110},{"t":2009.67,"v":0.0098},{"t":2009.77,"v":0.0110},{"t":2009.91,"v":0.0092},{"t":2010.01,"v":0.0104},{"t":2010.13,"v":0.0080},{"t":2010.25,"v":0.0032},{"t":2010.31,"v":0.0092},{"t":2010.43,"v":0.0086},{"t":2010.51,"v":0.0062},{"t":2010.60,"v":0.0086},{"t":2010.70,"v":0.0032},{"t":2010.82,"v":0.0080},{"t":2010.90,"v":0.0020},{"t":2011.02,"v":-0.0016},{"t":2011.14,"v":-0.0004},{"t":2011.26,"v":0.0062},{"t":2011.38,"v":-0.0051},{"t":2011.47,"v":-0.0028},{"t":2011.56,"v":-0.0016},{"t":2011.68,"v":-0.0093},{"t":2011.80,"v":-0.0063},{"t":2011.92,"v":-0.0063},{"t":2012.04,"v":-0.0075},{"t":2012.16,"v":-0.0081},{"t":2012.26,"v":-0.0111},{"t":2012.34,"v":-0.0040},{"t":2012.43,"v":-0.0040},{"t":2012.50,"v":0.0038},{"t":2012.58,"v":0.0002},{"t":2012.70,"v":-0.0075},{"t":2012.78,"v":-0.0004},{"t":2012.88,"v":-0.0075},{"t":2013.00,"v":-0.0111},{"t":2013.10,"v":-0.0045},{"t":2013.18,"v":-0.0010},{"t":2013.26,"v":-0.0063},{"t":2013.36,"v":-0.0087},{"t":2013.46,"v":-0.0141},{"t":2013.54,"v":-0.0123},{"t":2013.60,"v":-0.0165},{"t":2013.69,"v":-0.0111},{"t":2013.78,"v":-0.0117},{"t":2013.86,"v":-0.0045},{"t":2013.96,"v":-0.0093},{"t":2014.05,"v":-0.0069},{"t":2014.10,"v":-0.0045},{"t":2014.20,"v":-0.0183},{"t":2014.29,"v":-0.0147},{"t":2014.38,"v":-0.0135},{"t":2014.44,"v":-0.0040},{"t":2014.53,"v":-0.0087},{"t":2014.62,"v":-0.0135},{"t":2014.70,"v":-0.0075},{"t":2014.80,"v":-0.0093},{"t":2014.89,"v":-0.0075},{"t":2014.98,"v":-0.0183},{"t":2015.04,"v":-0.0213},{"t":2015.13,"v":-0.0123},{"t":2015.22,"v":-0.0129},{"t":2015.30,"v":-0.0123},{"t":2015.40,"v":-0.0189},{"t":2015.48,"v":-0.0177},{"t":2015.54,"v":-0.0051},{"t":2015.63,"v":-0.0165},{"t":2015.73,"v":-0.0075},{"t":2015.81,"v":-0.0028},{"t":2015.90,"v":-0.0075},{"t":2016.02,"v":-0.0081},{"t":2016.11,"v":-0.0016},{"t":2016.23,"v":0.0020},{"t":2016.33,"v":-0.0040},{"t":2016.45,"v":0.0068},{"t":2016.53,"v":0.0032},{"t":2016.65,"v":0.0068},{"t":2016.77,"v":0.0020},{"t":2016.89,"v":0.0008},{"t":2017.01,"v":-0.0051},{"t":2017.10,"v":-0.0004},{"t":2017.19,"v":0.0008},{"t":2017.29,"v":-0.0022},{"t":2017.37,"v":0.0068},{"t":2017.49,"v":0.0032},{"t":2017.57,"v":0.0164},{"t":2017.67,"v":0.0026},{"t":2017.75,"v":0.0038},{"t":2017.85,"v":0.0110},{"t":2017.93,"v":0.0026},{"t":2018.03,"v":0.0014},{"t":2018.11,"v":-0.0063},{"t":2018.21,"v":0.0074},{"t":2018.29,"v":0.0014},{"t":2018.39,"v":0.0026},{"t":2018.48,"v":0.0080},{"t":2018.57,"v":0.0107},{"t":2018.72,"v":0.0014},{"t":2018.92,"v":0.0060}],
"portugalUpper": [{"t":2003.33,"hi":0.0055},{"t":2003.45,"hi":0.0043},{"t":2003.54,"hi":0.0067},{"t":2003.66,"hi":0.0055},{"t":2003.78,"hi":0.0103},{"t":2003.86,"hi":0.0151},{"t":2003.98,"hi":0.0079},{"t":2004.13,"hi":0.0055},{"t":2004.27,"hi":0.0032},{"t":2004.41,"hi":0.0032},{"t":2004.53,"hi":0.0043},{"t":2004.64,"hi":0.0079},{"t":2004.76,"hi":0.0115},{"t":2004.88,"hi":0.0139},{"t":2004.97,"hi":0.0187},{"t":2005.07,"hi":0.0235},{"t":2005.15,"hi":0.0187},{"t":2005.23,"hi":0.0223},{"t":2005.32,"hi":0.0271},{"t":2005.41,"hi":0.0325},{"t":2005.50,"hi":0.0199},{"t":2005.62,"hi":0.0235},{"t":2005.74,"hi":0.0187},{"t":2005.82,"hi":0.0223},{"t":2005.91,"hi":0.0199},{"t":2006.05,"hi":0.0175},{"t":2006.15,"hi":0.0235},{"t":2006.26,"hi":0.0187},{"t":2006.38,"hi":0.0235},{"t":2006.50,"hi":0.0223},{"t":2006.62,"hi":0.0199},{"t":2006.73,"hi":0.0199},{"t":2006.85,"hi":0.0247},{"t":2006.97,"hi":0.0199},{"t":2007.08,"hi":0.0175},{"t":2007.20,"hi":0.0211},{"t":2007.32,"hi":0.0187},{"t":2007.44,"hi":0.0223},{"t":2007.55,"hi":0.0187},{"t":2007.69,"hi":0.0211},{"t":2007.81,"hi":0.0187},{"t":2007.91,"hi":0.0211},{"t":2008.02,"hi":0.0319},{"t":2008.14,"hi":0.0199},{"t":2008.26,"hi":0.0139},{"t":2008.38,"hi":0.0139},{"t":2008.49,"hi":0.0163},{"t":2008.61,"hi":0.0151},{"t":2008.73,"hi":0.0187},{"t":2008.84,"hi":0.0199},{"t":2008.96,"hi":0.0235},{"t":2009.08,"hi":0.0247},{"t":2009.20,"hi":0.0247},{"t":2009.31,"hi":0.0259},{"t":2009.43,"hi":0.0342},{"t":2009.55,"hi":0.0342},{"t":2009.67,"hi":0.0378},{"t":2009.78,"hi":0.0373},{"t":2009.90,"hi":0.0378},{"t":2010.02,"hi":0.0342},{"t":2010.13,"hi":0.0384},{"t":2010.28,"hi":0.0373},{"t":2010.37,"hi":0.0378},{"t":2010.51,"hi":0.0355},{"t":2010.63,"hi":0.0342},{"t":2010.75,"hi":0.0331},{"t":2010.86,"hi":0.0307},{"t":2010.98,"hi":0.0259},{"t":2011.10,"hi":0.0307},{"t":2011.21,"hi":0.0342},{"t":2011.31,"hi":0.0307},{"t":2011.43,"hi":0.0283},{"t":2011.54,"hi":0.0289},{"t":2011.68,"hi":0.0259},{"t":2011.80,"hi":0.0271},{"t":2011.95,"hi":0.0253},{"t":2012.07,"hi":0.0271},{"t":2012.22,"hi":0.0259},{"t":2012.36,"hi":0.0307},{"t":2012.48,"hi":0.0367},{"t":2012.60,"hi":0.0295},{"t":2012.72,"hi":0.0283},{"t":2012.83,"hi":0.0247},{"t":2012.95,"hi":0.0259},{"t":2013.07,"hi":0.0307},{"t":2013.21,"hi":0.0271},{"t":2013.33,"hi":0.0223},{"t":2013.44,"hi":0.0187},{"t":2013.56,"hi":0.0199},{"t":2013.68,"hi":0.0175},{"t":2013.80,"hi":0.0235},{"t":2013.91,"hi":0.0271},{"t":2014.03,"hi":0.0211},{"t":2014.15,"hi":0.0187},{"t":2014.26,"hi":0.0211},{"t":2014.38,"hi":0.0235},{"t":2014.50,"hi":0.0199},{"t":2014.62,"hi":0.0235},{"t":2014.73,"hi":0.0211},{"t":2014.85,"hi":0.0223},{"t":2014.97,"hi":0.0187},{"t":2015.09,"hi":0.0175},{"t":2015.20,"hi":0.0187},{"t":2015.32,"hi":0.0127},{"t":2015.44,"hi":0.0175},{"t":2015.56,"hi":0.0211},{"t":2015.67,"hi":0.0247},{"t":2015.79,"hi":0.0283},{"t":2015.91,"hi":0.0283},{"t":2016.03,"hi":0.0307},{"t":2016.14,"hi":0.0331},{"t":2016.24,"hi":0.0355},{"t":2016.35,"hi":0.0402},{"t":2016.47,"hi":0.0342},{"t":2016.61,"hi":0.0414},{"t":2016.73,"hi":0.0342},{"t":2016.85,"hi":0.0331},{"t":2016.96,"hi":0.0283},{"t":2017.08,"hi":0.0342},{"t":2017.20,"hi":0.0342},{"t":2017.32,"hi":0.0378},{"t":2017.41,"hi":0.0402},{"t":2017.55,"hi":0.0558},{"t":2017.67,"hi":0.0426},{"t":2017.78,"hi":0.0438},{"t":2017.90,"hi":0.0378},{"t":2018.02,"hi":0.0391},{"t":2018.14,"hi":0.0426},{"t":2018.25,"hi":0.0402},{"t":2018.37,"hi":0.0414},{"t":2018.49,"hi":0.0426},{"t":2018.68,"hi":0.0438},{"t":2018.92,"hi":0.0440}],
"portugalLower": [{"t":2003.33,"lo":-0.0016},{"t":2003.45,"lo":-0.0040},{"t":2003.56,"lo":-0.0064},{"t":2003.68,"lo":-0.0088},{"t":2003.80,"lo":-0.0100},{"t":2003.92,"lo":-0.0112},{"t":2004.06,"lo":-0.0088},{"t":2004.17,"lo":-0.0052},{"t":2004.29,"lo":-0.0088},{"t":2004.41,"lo":-0.0112},{"t":2004.50,"lo":-0.0160},{"t":2004.62,"lo":-0.0244},{"t":2004.74,"lo":-0.0172},{"t":2004.86,"lo":-0.0160},{"t":2004.97,"lo":-0.0136},{"t":2005.09,"lo":-0.0112},{"t":2005.21,"lo":-0.0136},{"t":2005.32,"lo":-0.0112},{"t":2005.44,"lo":-0.0100},{"t":2005.56,"lo":-0.0136},{"t":2005.68,"lo":-0.0148},{"t":2005.79,"lo":-0.0112},{"t":2005.91,"lo":-0.0136},{"t":2006.03,"lo":-0.0148},{"t":2006.15,"lo":-0.0160},{"t":2006.26,"lo":-0.0124},{"t":2006.38,"lo":-0.0136},{"t":2006.50,"lo":-0.0148},{"t":2006.62,"lo":-0.0160},{"t":2006.73,"lo":-0.0136},{"t":2006.85,"lo":-0.0112},{"t":2006.97,"lo":-0.0136},{"t":2007.08,"lo":-0.0124},{"t":2007.20,"lo":-0.0148},{"t":2007.32,"lo":-0.0160},{"t":2007.44,"lo":-0.0136},{"t":2007.58,"lo":-0.0196},{"t":2007.69,"lo":-0.0136},{"t":2007.81,"lo":-0.0172},{"t":2007.93,"lo":-0.0136},{"t":2008.05,"lo":-0.0124},{"t":2008.14,"lo":-0.0184},{"t":2008.26,"lo":-0.0280},{"t":2008.38,"lo":-0.0232},{"t":2008.49,"lo":-0.0304},{"t":2008.56,"lo":-0.0363},{"t":2008.67,"lo":-0.0256},{"t":2008.79,"lo":-0.0232},{"t":2008.90,"lo":-0.0232},{"t":2009.02,"lo":-0.0208},{"t":2009.14,"lo":-0.0184},{"t":2009.25,"lo":-0.0160},{"t":2009.37,"lo":-0.0136},{"t":2009.49,"lo":-0.0136},{"t":2009.61,"lo":-0.0112},{"t":2009.72,"lo":-0.0136},{"t":2009.84,"lo":-0.0124},{"t":2009.96,"lo":-0.0136},{"t":2010.08,"lo":-0.0124},{"t":2010.19,"lo":-0.0136},{"t":2010.31,"lo":-0.0160},{"t":2010.43,"lo":-0.0172},{"t":2010.55,"lo":-0.0160},{"t":2010.66,"lo":-0.0160},{"t":2010.78,"lo":-0.0196},{"t":2010.90,"lo":-0.0232},{"t":2011.01,"lo":-0.0256},{"t":2011.13,"lo":-0.0256},{"t":2011.25,"lo":-0.0304},{"t":2011.37,"lo":-0.0351},{"t":2011.45,"lo":-0.0423},{"t":2011.57,"lo":-0.0376},{"t":2011.68,"lo":-0.0471},{"t":2011.80,"lo":-0.0507},{"t":2011.92,"lo":-0.0567},{"t":2012.04,"lo":-0.0495},{"t":2012.15,"lo":-0.0471},{"t":2012.27,"lo":-0.0495},{"t":2012.39,"lo":-0.0519},{"t":2012.51,"lo":-0.0471},{"t":2012.62,"lo":-0.0447},{"t":2012.74,"lo":-0.0423},{"t":2012.86,"lo":-0.0471},{"t":2012.97,"lo":-0.0447},{"t":2013.09,"lo":-0.0411},{"t":2013.21,"lo":-0.0471},{"t":2013.33,"lo":-0.0495},{"t":2013.44,"lo":-0.0495},{"t":2013.56,"lo":-0.0471},{"t":2013.68,"lo":-0.0495},{"t":2013.80,"lo":-0.0471},{"t":2013.91,"lo":-0.0459},{"t":2014.03,"lo":-0.0471},{"t":2014.15,"lo":-0.0519},{"t":2014.26,"lo":-0.0495},{"t":2014.38,"lo":-0.0471},{"t":2014.50,"lo":-0.0495},{"t":2014.62,"lo":-0.0471},{"t":2014.73,"lo":-0.0519},{"t":2014.85,"lo":-0.0543},{"t":2014.97,"lo":-0.0603},{"t":2015.09,"lo":-0.0519},{"t":2015.20,"lo":-0.0471},{"t":2015.32,"lo":-0.0435},{"t":2015.44,"lo":-0.0411},{"t":2015.56,"lo":-0.0447},{"t":2015.67,"lo":-0.0387},{"t":2015.79,"lo":-0.0411},{"t":2015.91,"lo":-0.0376},{"t":2016.03,"lo":-0.0399},{"t":2016.14,"lo":-0.0363},{"t":2016.26,"lo":-0.0340},{"t":2016.38,"lo":-0.0327},{"t":2016.49,"lo":-0.0340},{"t":2016.61,"lo":-0.0316},{"t":2016.73,"lo":-0.0327},{"t":2016.85,"lo":-0.0351},{"t":2016.96,"lo":-0.0327},{"t":2017.08,"lo":-0.0304},{"t":2017.20,"lo":-0.0292},{"t":2017.32,"lo":-0.0280},{"t":2017.43,"lo":-0.0304},{"t":2017.55,"lo":-0.0327},{"t":2017.67,"lo":-0.0280},{"t":2017.78,"lo":-0.0256},{"t":2017.90,"lo":-0.0280},{"t":2018.02,"lo":-0.0363},{"t":2018.14,"lo":-0.0304},{"t":2018.25,"lo":-0.0292},{"t":2018.37,"lo":-0.0280},{"t":2018.49,"lo":-0.0292},{"t":2018.68,"lo":-0.0280},{"t":2018.92,"lo":-0.0280}]
},
"concat": [
{"title": "Spain", "width": 443, "height": 390,
 "layer": [
  {"data": {"name": "spainUpper"}, "mark": {"type": "area", "color": "#dcebf6", "opacity": 1, "clip": true},
   "encoding": {"x": {"field": "t", "type": "quantitative", "scale": {"domain": [2003.33, 2018.92], "nice": false, "zero": false}, "axis": {"values": [2005, 2010, 2015], "format": "d", "title": null}},
    "y": {"field": "hi", "type": "quantitative", "scale": {"domain": [-0.05, 0.05], "nice": false, "zero": false}, "axis": {"values": [-0.05, 0, 0.05], "format": "~g", "title": null}},
    "y2": {"datum": 0}}},
  {"data": {"name": "spainLower"}, "mark": {"type": "area", "color": "#dcebf6", "opacity": 1, "clip": true},
   "encoding": {"x": {"field": "t", "type": "quantitative"}, "y": {"field": "lo", "type": "quantitative"}, "y2": {"datum": 0}}},
  {"data": {"values": [{}]}, "mark": {"type": "rule", "color": "#1f6fb4", "strokeWidth": 3, "strokeDash": [3, 3.3]}, "encoding": {"y": {"datum": 0}}},
  {"data": {"name": "spainLine"}, "mark": {"type": "line", "color": "#1f6fb4", "strokeWidth": 3.1, "clip": true},
   "encoding": {"x": {"field": "t", "type": "quantitative"}, "y": {"field": "v", "type": "quantitative"}}}
 ]},
{"title": "Ireland", "width": 436, "height": 390,
 "layer": [
  {"data": {"name": "irelandUpper"}, "mark": {"type": "area", "color": "#dcebf6", "opacity": 1, "clip": true},
   "encoding": {"x": {"field": "t", "type": "quantitative", "scale": {"domain": [2003.33, 2018.67], "nice": false, "zero": false}, "axis": {"values": [2005, 2010, 2015], "format": "d", "title": null}},
    "y": {"field": "hi", "type": "quantitative", "scale": {"domain": [-0.15, 0.2], "nice": false, "zero": false}, "axis": {"values": [-0.15, -0.1, -0.05, 0, 0.05, 0.1, 0.15, 0.2], "format": "~g", "title": null}},
    "y2": {"datum": 0}}},
  {"data": {"name": "irelandLower"}, "mark": {"type": "area", "color": "#dcebf6", "opacity": 1, "clip": true},
   "encoding": {"x": {"field": "t", "type": "quantitative"}, "y": {"field": "lo", "type": "quantitative"}, "y2": {"datum": 0}}},
  {"data": {"values": [{}]}, "mark": {"type": "rule", "color": "#1f6fb4", "strokeWidth": 3, "strokeDash": [3, 3.3]}, "encoding": {"y": {"datum": 0}}},
  {"data": {"name": "irelandLine"}, "mark": {"type": "line", "color": "#1f6fb4", "strokeWidth": 3.1, "clip": true},
   "encoding": {"x": {"field": "t", "type": "quantitative"}, "y": {"field": "v", "type": "quantitative"}}}
 ]},
{"title": "Italy", "width": 443, "height": 390,
 "layer": [
  {"data": {"name": "italyBand"}, "mark": {"type": "area", "color": "#dcebf6", "opacity": 1, "clip": true},
   "encoding": {"x": {"field": "t", "type": "quantitative", "scale": {"domain": [2003.33, 2018.92], "nice": false, "zero": false}, "axis": {"values": [2005, 2010, 2015], "format": "d", "title": null}},
    "y": {"field": "lo", "type": "quantitative", "scale": {"domain": [-0.06, 0.04], "nice": false, "zero": false}, "axis": {"values": [-0.06, -0.04, -0.02, 0, 0.02, 0.04], "format": "~g", "title": null}},
    "y2": {"field": "hi"}}},
  {"data": {"values": [{}]}, "mark": {"type": "rule", "color": "#1f6fb4", "strokeWidth": 3, "strokeDash": [3, 3.3]}, "encoding": {"y": {"datum": 0}}},
  {"data": {"name": "italyLine"}, "mark": {"type": "line", "color": "#1f6fb4", "strokeWidth": 3.1, "clip": true},
   "encoding": {"x": {"field": "t", "type": "quantitative"}, "y": {"field": "v", "type": "quantitative"}}}
 ]},
{"title": "Portugal", "width": 436, "height": 390,
 "layer": [
  {"data": {"name": "portugalUpper"}, "mark": {"type": "area", "color": "#dcebf6", "opacity": 1, "clip": true},
   "encoding": {"x": {"field": "t", "type": "quantitative", "scale": {"domain": [2003.33, 2018.67], "nice": false, "zero": false}, "axis": {"values": [2005, 2010, 2015], "format": "d", "title": null}},
    "y": {"field": "hi", "type": "quantitative", "scale": {"domain": [-0.08, 0.06], "nice": false, "zero": false}, "axis": {"values": [-0.08, -0.06, -0.04, -0.02, 0, 0.02, 0.04, 0.06], "format": "~g", "title": null}},
    "y2": {"datum": 0}}},
  {"data": {"name": "portugalLower"}, "mark": {"type": "area", "color": "#dcebf6", "opacity": 1, "clip": true},
   "encoding": {"x": {"field": "t", "type": "quantitative"}, "y": {"field": "lo", "type": "quantitative"}, "y2": {"datum": 0}}},
  {"data": {"values": [{}]}, "mark": {"type": "rule", "color": "#1f6fb4", "strokeWidth": 3, "strokeDash": [3, 3.3]}, "encoding": {"y": {"datum": 0}}},
  {"data": {"name": "portugalLine"}, "mark": {"type": "line", "color": "#1f6fb4", "strokeWidth": 3.1, "clip": true},
   "encoding": {"x": {"field": "t", "type": "quantitative"}, "y": {"field": "v", "type": "quantitative"}}}
 ]}
],
"config": {
 "view": {"stroke": null},
 "font": "Liberation Serif",
 "axis": {"grid": false, "labelFont": "Liberation Serif", "labelFontSize": 24, "labelColor": "#262626", "domainColor": "#262626", "tickColor": "#262626", "tickSize": -5, "labelPadding": 19, "domainWidth": 1.2, "tickWidth": 1.2},
 "title": {"font": "Liberation Serif", "fontSize": 26, "fontWeight": "normal", "color": "#000000", "anchor": "middle", "frame": "group", "offset": -6},
 "locale": {"number": {"decimal": ".", "thousands": ",", "grouping": [3], "currency": ["$", ""], "minus": "-"}}
}
}
